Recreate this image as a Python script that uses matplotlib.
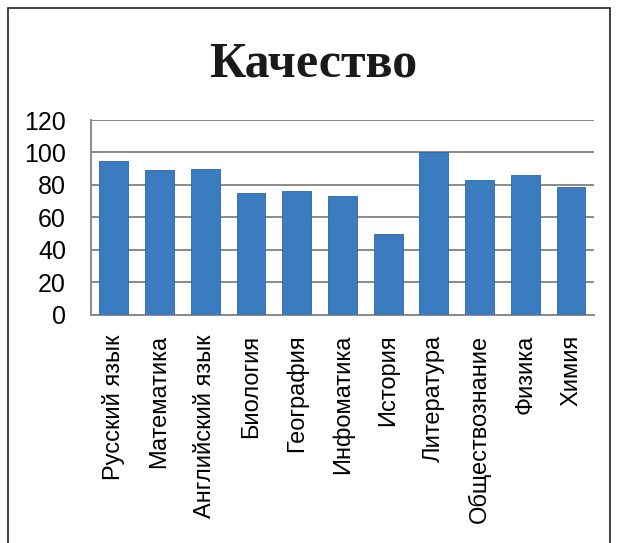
import matplotlib
matplotlib.use("Agg")
import matplotlib.pyplot as plt
from matplotlib.patches import Rectangle

subjects = [
    "Русский язык", "Математика", "Английский язык", "Биология",
    "География", "Инфоматика", "История", "Литература",
    "Обществознание", "Физика", "Химия",
]
quality = [95, 89, 90, 75, 76, 73, 50, 100, 83, 86, 79]
y_ticks = [0, 20, 40, 60, 80, 100, 120]

fig = plt.figure(figsize=(6.17, 5.43), dpi=100)
ax = fig.add_axes([0.1475, 0.42, 0.815, 0.359])

# Outer chart frame
fig.patches.append(Rectangle((0.013, -0.02), 0.975, 1.005, transform=fig.transFigure,
                             fill=False, edgecolor="#222222", linewidth=1.2))

ax.bar(range(len(subjects)), quality, width=0.63, color="#3b7cc0",
       edgecolor="#2d659f", linewidth=0.6, zorder=3)

ax.set_ylim(0, 120)
ax.set_xlim(-0.5, len(subjects) - 0.5)
ax.set_yticks(y_ticks)
ax.set_yticklabels([str(v) for v in y_ticks], fontsize=18, family="Liberation Sans")
ax.set_xticks(range(len(subjects)))
ax.set_xticklabels(subjects, rotation=90, fontsize=17, family="Liberation Sans")
ax.tick_params(axis="y", length=0, pad=18)
ax.tick_params(axis="x", length=0, pad=14)

ax.grid(axis="y", color="#8a8a8a", linewidth=1.4, zorder=0)
for side in ["top", "right"]:
    ax.spines[side].set_visible(False)
for side in ["left", "bottom"]:
    ax.spines[side].set_color("#8a8a8a")
    ax.spines[side].set_linewidth(1.4)

fig.text(0.507, 0.882, "Качество", ha="center", va="center", fontsize=36,
         fontweight="bold", family="Liberation Serif", color="#1a1a1a")

fig.savefig("out.png", dpi=100)
